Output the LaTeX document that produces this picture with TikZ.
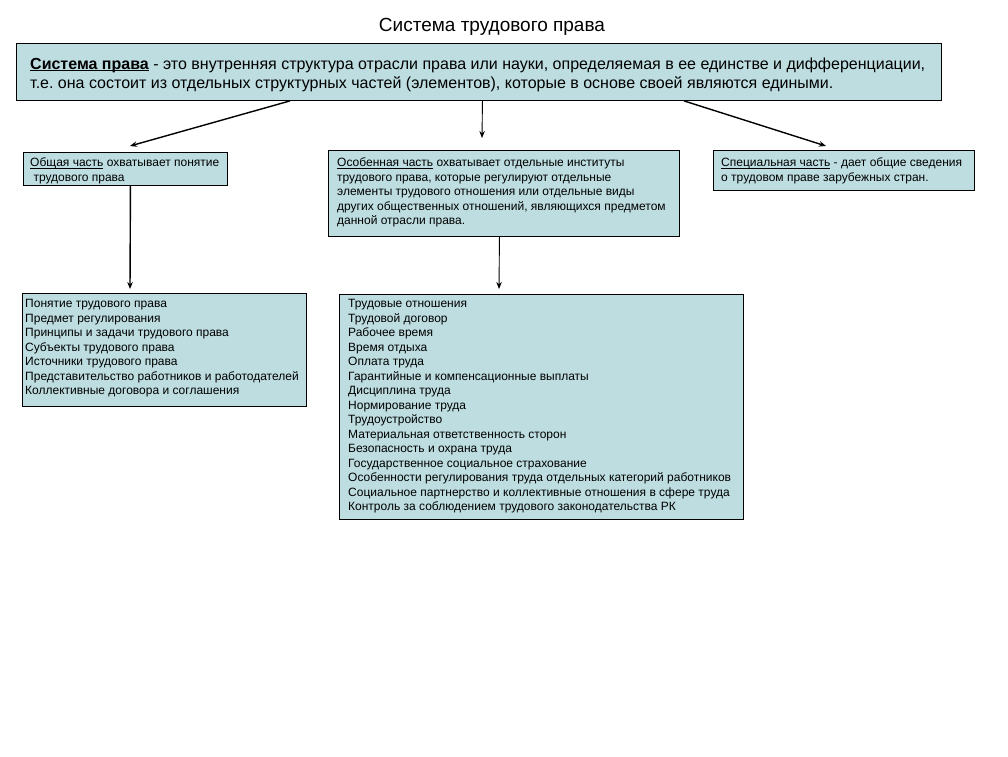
\documentclass[tikz,border=0pt]{standalone}
\usepackage{fontspec}
\setmainfont{Liberation Sans}
\usetikzlibrary{arrows.meta}
\frenchspacing
\definecolor{boxfill}{RGB}{189,221,224}
\newcommand{\myul}[1]{\setbox0\hbox{#1}\rlap{\rule[-1.6pt]{\wd0}{0.6pt}}\box0\relax}
\newcommand{\smalltxt}{\fontsize{12}{14.5}\selectfont}
\tikzset{
  box/.style={draw=black, line width=0.9pt, fill=boxfill, anchor=north west, inner sep=0pt},
  txt/.style={anchor=base west, inner sep=0pt, font=\smalltxt},
  arr/.style={-{Stealth[length=7pt,width=5.5pt]}, line width=0.9pt, black},
  thickarr/.style={-{Stealth[length=7pt,width=5.5pt]}, line width=1.4pt, black}
}
\begin{document}
\begin{tikzpicture}[x=1pt,y=-1pt]
\useasboundingbox[fill=white] (0,0) rectangle (1008,756);
% title
\node[anchor=base, inner sep=0pt, font=\fontsize{19}{22}\selectfont] (title) at (492,31) {Система трудового права};
% main box
\node[box, minimum width=925pt, minimum height=57pt] (main) at (16,43) {};
\node[anchor=base west, inner sep=0pt, font=\fontsize{16}{19}\selectfont] (maintxt) at (30,69)
  {\vtop{\lineskiplimit=-20pt\baselineskip=19pt
   \hbox{\myul{\textbf{Система права}} - это внутренняя структура отрасли права или науки, определяемая в ее единстве и дифференциации,}
   \hbox{т.е. она состоит из отдельных структурных частей (элементов), которые в основе своей являются едиными.}}};
% box A
\node[box, minimum width=204pt, minimum height=33pt] (A) at (23,152) {};
\node[txt] (Atxt) at (30,166.5)
  {\vtop{\lineskiplimit=-20pt\baselineskip=14.5pt
   \hbox{\myul{Общая часть} охватывает понятие}
   \hbox{ трудового права}}};
% box B
\node[box, minimum width=351pt, minimum height=86pt] (B) at (328,150) {};
\node[txt] (Btxt) at (337,166.5)
  {\vtop{\lineskiplimit=-20pt\baselineskip=14.5pt
   \hbox{\myul{Особенная часть} охватывает отдельные институты}
   \hbox{трудового права, которые регулируют отдельные}
   \hbox{элементы трудового отношения или отдельные виды}
   \hbox{других общественных отношений, являющихся предметом}
   \hbox{данной отрасли права.}}};
% box C
\node[box, minimum width=261pt, minimum height=40pt] (C) at (713,150) {};
\node[txt] (Ctxt) at (721,166.5)
  {\vtop{\lineskiplimit=-20pt\baselineskip=14.5pt
   \hbox{\myul{Специальная часть} - дает общие сведения}
   \hbox{о трудовом праве зарубежных стран.}}};
% box A2
\node[box, minimum width=284pt, minimum height=113pt] (A2) at (22,293) {};
\node[txt] (A2txt) at (25,307.5)
  {\vtop{\lineskiplimit=-20pt\baselineskip=14.5pt
   \hbox{Понятие трудового права}
   \hbox{Предмет регулирования}
   \hbox{Принципы и задачи трудового права}
   \hbox{Субъекты трудового права}
   \hbox{Источники трудового права}
   \hbox{Представительство работников и работодателей}
   \hbox{Коллективные договора и соглашения}}};
% box B2
\node[box, minimum width=404pt, minimum height=225pt] (B2) at (339,294) {};
\node[txt] (B2txt) at (348,307.5)
  {\vtop{\lineskiplimit=-20pt\baselineskip=14.5pt
   \hbox{Трудовые отношения}
   \hbox{Трудовой договор}
   \hbox{Рабочее время}
   \hbox{Время отдыха}
   \hbox{Оплата труда}
   \hbox{Гарантийные и компенсационные выплаты}
   \hbox{Дисциплина труда}
   \hbox{Нормирование труда}
   \hbox{Трудоустройство}
   \hbox{Материальная ответственность сторон}
   \hbox{Безопасность и охрана труда}
   \hbox{Государственное социальное страхование}
   \hbox{Особенности регулирования труда отдельных категорий работников}
   \hbox{Социальное партнерство и коллективные отношения в сфере труда}
   \hbox{Контроль за соблюдением трудового законодательства РК}}};
% arrows
\coordinate (midtip) at (482,138);
\draw[thickarr] ([xshift=274pt]main.south west) -- ([xshift=107pt,yshift=6pt]A.north west);
\draw[arr] ([xshift=3.5pt]main.south) -- (midtip);
\draw[thickarr] ([xshift=668pt]main.south west) -- ([xshift=113pt,yshift=4pt]C.north west);
\draw[thickarr] ([xshift=5pt]A.south) -- ([xshift=108pt,yshift=4pt]A2.north west);
\draw[arr] ([xshift=-4.5pt]B.south) -- ([xshift=160pt,yshift=5pt]B2.north west);
\end{tikzpicture}
\end{document}
